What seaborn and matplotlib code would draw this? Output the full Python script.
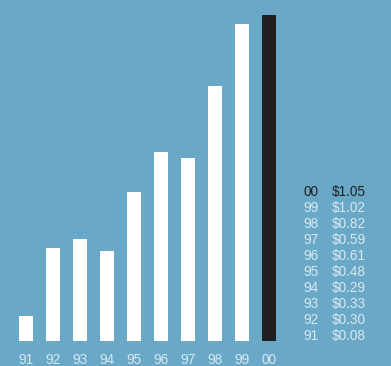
import matplotlib
matplotlib.use("Agg")
import matplotlib.pyplot as plt
import seaborn as sns
import pandas as pd

years = ["91", "92", "93", "94", "95", "96", "97", "98", "99", "00"]
values = [0.08, 0.30, 0.33, 0.29, 0.48, 0.61, 0.59, 0.82, 1.02, 1.05]
price_labels = ["$0.08", "$0.30", "$0.33", "$0.29", "$0.48", "$0.61", "$0.59", "$0.82", "$1.02", "$1.05"]

BG = "#69a9c7"
LIGHT = "#d8e8f1"
DARK = "#231f20"

sns.set_theme(style="white")
plt.rcParams["font.family"] = ["Liberation Sans", "DejaVu Sans"]

df = pd.DataFrame({"year": years, "value": values})
df["hl"] = ["last" if y == "00" else "other" for y in years]

fig = plt.figure(figsize=(3.91, 3.66), dpi=100, facecolor=BG)
ax = fig.add_axes([12.5 / 391, 25 / 366, 270 / 391, 326 / 366])
ax.set_facecolor(BG)

sns.barplot(data=df, x="year", y="value", hue="hl", order=years,
            palette={"last": DARK, "other": "white"}, width=0.52,
            dodge=False, legend=False, ax=ax, saturation=1, linewidth=0)

ax.set_xlim(-0.5, len(years) - 0.5)
ax.set_ylim(0, 1.05)
ax.set_xlabel("")
ax.set_ylabel("")
ax.set_yticks([])
ax.tick_params(axis="x", length=0, pad=9, labelsize=9.8, colors=LIGHT)
for s in ax.spines.values():
    s.set_visible(False)

# side table
y0 = 192
for i, (yr, pr) in enumerate(zip(years[::-1], price_labels[::-1])):
    yy = 1 - (y0 + i * 16) / 366
    col = DARK if i == 0 else LIGHT
    fig.text(303 / 391, yy, yr, color=col, fontsize=9.8, va="center", ha="left")
    fig.text(332 / 391, yy, pr, color=col, fontsize=9.8, va="center", ha="left")

fig.savefig("out.png", dpi=100, facecolor=BG)
